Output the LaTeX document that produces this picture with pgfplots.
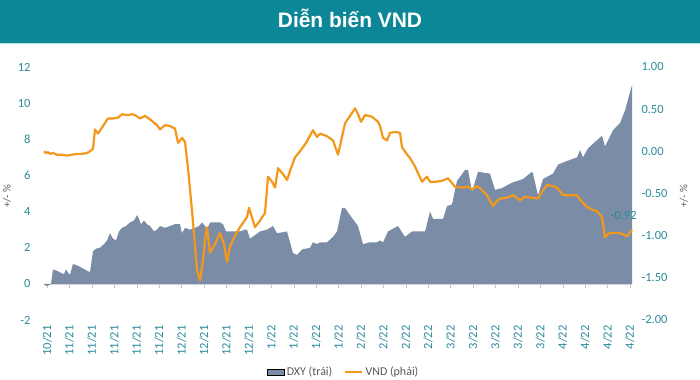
\documentclass[border=0pt]{standalone}
\usepackage{pgfplots}
\pgfplotsset{compat=1.18}
\usepackage{fontspec}
\setmainfont{Carlito}
\newfontfamily\titlefont{Liberation Sans}
\definecolor{banner}{RGB}{11,135,151}
\definecolor{ticktxt}{RGB}{42,140,154}
\definecolor{dxy}{RGB}{123,141,166}
\definecolor{vnd}{RGB}{243,152,28}
\definecolor{labgray}{RGB}{89,89,89}

\pgfplotstableread{
px val
44 -0.05
47 -0.12
50 -0.05
51 0.0
53 0.8
57 0.72
62 0.58
64 0.55
66 0.8
68 0.62
70 0.5
73 1.1
78 1.0
83 0.85
88 0.7
90 0.65
93 1.8
96 1.95
100 2.0
104 2.2
107 2.4
110 2.8
113 2.5
116 2.4
119 2.9
122 3.1
126 3.2
130 3.4
134 3.5
137 3.8
139 3.6
141 3.3
144 3.5
147 3.3
150 3.2
154 2.9
157 3.0
160 3.2
165 3.1
170 3.2
175 3.3
180 3.3
182 2.8
185 3.1
190 3.0
195 3.1
199 3.2
202 3.4
205 3.2
207 3.0
210 3.4
215 3.4
220 3.4
223 3.3
226 2.9
230 2.9
235 2.9
240 2.9
245 3.0
247 3.0
250 2.5
255 2.7
260 2.9
267 3.0
273 3.2
277 2.8
287 2.9
293 1.7
297 1.6
302 1.9
310 2.0
313 2.3
317 2.2
320 2.3
327 2.3
333 2.6
337 2.9
342 4.2
345 4.2
350 3.8
358 3.2
363 2.2
370 2.3
377 2.3
380 2.4
383 2.3
388 2.9
398 3.2
405 2.6
412 2.9
425 2.9
430 4.0
433 3.6
443 3.6
447 4.3
452 4.4
457 5.7
465 6.3
468 6.3
472 5.1
478 6.2
490 6.1
495 5.2
502 5.3
512 5.6
523 5.8
532 6.2
533 6.1
538 4.9
543 5.8
553 6.1
558 6.6
567 6.8
577 7.0
580 7.4
583 7.0
588 7.5
602 8.2
605 7.6
613 8.5
620 8.9
625 9.6
632 11.0
}\dxytable

\pgfplotstableread{
px val
44 0.0
46 -0.02
48 -0.01
50 -0.03
53 -0.02
57 -0.04
62 -0.04
67 -0.05
72 -0.04
77 -0.03
82 -0.03
87 -0.02
90 0.0
93 0.03
95 0.26
98 0.21
103 0.3
108 0.39
113 0.39
118 0.40
122 0.44
128 0.43
132 0.44
135 0.43
140 0.39
145 0.42
150 0.38
157 0.31
160 0.26
165 0.31
170 0.30
175 0.27
178 0.10
182 0.16
185 0.11
188 -0.2
192 -0.70
197 -1.41
200 -1.53
203 -1.3
205 -1.05
207 -0.9
210 -1.2
215 -1.1
220 -0.97
224 -1.1
227 -1.31
230 -1.13
235 -1.0
240 -0.9
244 -0.83
247 -0.78
249 -0.67
255 -0.9
260 -0.82
265 -0.73
268 -0.3
272 -0.36
275 -0.43
278 -0.2
283 -0.27
287 -0.34
291 -0.2
295 -0.07
300 0.0
306 0.1
313 0.25
317 0.17
320 0.21
327 0.18
333 0.13
338 -0.04
345 0.33
350 0.42
355 0.51
358 0.44
361 0.35
365 0.43
372 0.41
378 0.35
380 0.3
383 0.16
387 0.13
390 0.22
395 0.23
400 0.22
402 0.05
406 -0.02
410 -0.08
415 -0.18
422 -0.36
427 -0.3
430 -0.36
436 -0.36
442 -0.35
448 -0.32
455 -0.42
462 -0.43
468 -0.42
472 -0.45
477 -0.41
482 -0.46
487 -0.52
493 -0.65
496 -0.6
500 -0.56
507 -0.55
513 -0.52
520 -0.58
525 -0.54
532 -0.55
538 -0.56
542 -0.48
547 -0.40
552 -0.41
557 -0.43
563 -0.52
570 -0.52
577 -0.52
582 -0.6
587 -0.66
592 -0.69
597 -0.71
602 -0.78
605 -1.02
608 -0.98
610 -0.97
615 -0.97
620 -0.97
624 -0.99
627 -1.01
632 -0.93
}\vndtable

\begin{document}
\begin{tikzpicture}[x=1bp,y=1bp]
\useasboundingbox (0,0) rectangle (700,379);
\fill[banner] (0,335) rectangle (700,379);
\draw[white!70!banner, line width=1bp] (0,335.5) -- (700,335.5);
\node[text=white, font=\titlefont\bfseries\fontsize{21}{24}\selectfont] at (350,361) {Diễn biến VND};

\pgfplotsset{
  basestyle/.style={
    at={(44bp,59bp)}, anchor=south west,
    scale only axis, width=588bp, height=253bp,
    xmin=44, xmax=632,
    tick label style={font=\fontsize{12.5}{14}\selectfont, text=ticktxt},
    /pgf/number format/assume math mode=true,
    clip=false,
  }
}

\begin{axis}[basestyle,
  ymin=-2, ymax=12, ytick={-2,0,...,12},
  axis x line*=middle, axis y line*=left,
  y axis line style={draw=none},
  ytick style={draw=none},
  x axis line style={draw=gray!35, -},
  xtick style={draw=gray!45},
  tick align=outside, major tick length=4bp,
  xtick={47,69.42,91.84,114.26,136.68,159.1,181.52,203.94,226.36,248.78,271.2,293.62,316.04,338.46,360.88,383.3,405.72,428.14,450.56,472.98,495.4,517.82,540.24,562.66,585.08,607.5,629.92},
  xticklabels={10/21,11/21,11/21,11/21,11/21,11/21,12/21,12/21,12/21,12/21,1/22,1/22,1/22,1/22,2/22,2/22,2/22,2/22,3/22,3/22,3/22,3/22,3/22,4/22,4/22,4/22,4/22},
  xticklabel style={rotate=90, anchor=east},
  xticklabel shift=34bp,
  yticklabel style={xshift=-6bp},
  ylabel={+/- \%},
  ylabel style={at={(axis description cs:-0.063,0.49)}, anchor=center, rotate=0, font=\fontsize{11}{12}\selectfont, text=labgray},
]
\addplot[fill=dxy, draw=none] table[x=px, y=val] {\dxytable} \closedcycle;
\end{axis}

\begin{axis}[basestyle,
  ymin=-2, ymax=1, ytick={-2,-1.5,...,1},
  axis x line=none, axis y line*=right,
  y axis line style={draw=none},
  ytick style={draw=none},
  yticklabel style={/pgf/number format/fixed, /pgf/number format/fixed zerofill, /pgf/number format/precision=2, xshift=6bp},
  ylabel={+/- \%},
  ylabel style={at={(axis description cs:1.088,0.49)}, anchor=center, rotate=0, font=\fontsize{11}{12}\selectfont, text=labgray},
  legend columns=2,
  legend style={draw=none, fill=none, at={(0.51,-0.205)}, anchor=center,
    font=\fontsize{12}{14}\selectfont, text=labgray,
    /tikz/every even column/.append style={column sep=10bp}},
]
\addlegendimage{area legend, fill=dxy, draw=none}
\addlegendentry{DXY (trái)}
\addplot[vnd, line width=2.2bp, line join=round] table[x=px, y=val] {\vndtable}
  node[pos=1, anchor=south east, xshift=9bp, yshift=6bp, font=\fontsize{12.5}{14}\selectfont, text=ticktxt] {-0.92};
\addlegendentry{VND (phải)}
\end{axis}
\end{tikzpicture}
\end{document}
